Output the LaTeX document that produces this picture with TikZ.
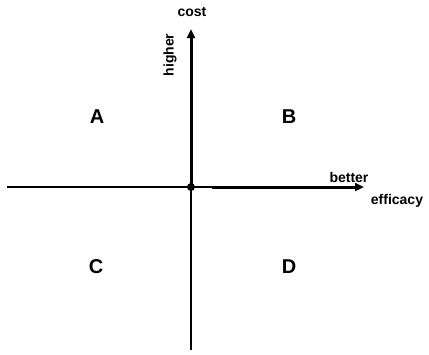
\documentclass[tikz,border=0pt]{standalone}
\usepackage{fontspec}
\setmainfont{Liberation Sans}
\usetikzlibrary{positioning,calc}
\usetikzlibrary{arrows.meta}
\tikzset{
  axis/.style={draw=black,line width=1.4pt},
  ray/.style={draw=black,line width=3pt,-{Triangle[length=9pt,width=8pt]}},
  dot/.style={circle,fill=black,inner sep=0pt,minimum size=8pt},
  quad/.style={font=\bfseries\fontsize{20}{24}\selectfont,inner sep=0pt},
  lbl/.style={font=\bfseries\fontsize{14}{16}\selectfont,inner sep=0pt},
}

\begin{document}
\begin{tikzpicture}[x=1pt,y=-1pt]
\useasboundingbox (0,0) rectangle (429,354);
\node[dot](O) at (191,187){};
\coordinate(W) at (7,187);\coordinate(S) at (191,350);
\coordinate(E0) at (212,187);\coordinate(E) at (364,187);\coordinate(N) at (191,29);
\draw[axis] (W)--(E0);\draw[axis] (S)--(O.center);
\draw[ray] (E0)--(E);\draw[ray] (O.center)--(N);
\node[lbl](cost) at (192,12){cost};
\node[lbl,rotate=90](higher) at (170,55){higher};
\node[lbl](better) at (349,177){better};
\node[lbl](efficacy) at (397,201){efficacy};
\node[quad](A) at (97,117){A};\node[quad](B) at (289,117){B};
\node[quad](C) at (96,267){C};\node[quad](D) at (289,267){D};
\end{tikzpicture}
\end{document}
